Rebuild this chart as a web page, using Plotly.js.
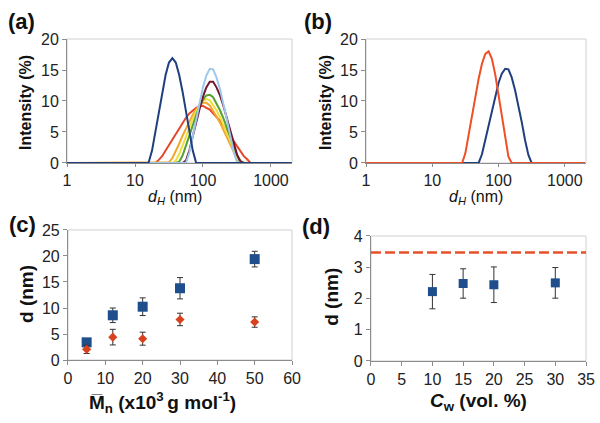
<!DOCTYPE html>
<html>
<head>
<meta charset="utf-8">
<script src="https://cdn.plot.ly/plotly-3.0.1.min.js"></script>
<style>html,body{margin:0;padding:0;background:#fff}#chart{width:600px;height:423px}</style>
</head>
<body>
<div id="chart"></div>
<script>
// ---- Data ----
// hydrodynamic diameter grid (nm)
const sizeNm = [1, 14.1, 15.8, 17.8, 20.0, 22.4, 25.1, 28.2, 31.6, 35.5, 39.8, 44.7, 50.1, 56.2, 63.1, 70.8, 79.4, 89.1, 100, 112, 126, 141, 158, 178, 200, 224, 251, 282, 316, 355, 398, 447, 501, 562, 631, 708, 2000];

// Panel (a) intensity distributions (%)
const aRed    = [0,0,0,0,0, 0.5,1.1,2.0,2.9,3.9,4.8,5.7,6.5,7.3,8.0,8.5,8.9,9.2,9.2,8.9,8.6,8.0,7.4,6.8,6.0,5.2,4.4,3.6,2.8,1.9,1.1,0.6, 0,0,0,0,0];
const aOrange = [0,0,0,0,0,0,0,0, 0.1,0.8,1.9,3.1,4.4,5.5,6.7,7.8,8.6,9.3,9.7,9.7,9.3,8.5,7.5,6.5,5.3,4.1,2.9,1.6,0.7, 0,0,0,0,0,0,0,0];
const aYellow = [0,0,0,0,0,0,0,0,0,0, 0.4,1.4,2.8,4.3,5.7,7.1,8.3,9.3,10.0,10.3,10.1,9.4,8.5,7.4,6.2,4.9,3.6,2.2,0.9,0.1, 0,0,0,0,0,0,0];
const aGreen  = [0,0,0,0,0,0,0,0,0,0,0, 0.2,1.2,2.8,4.5,6.2,7.7,9.1,10.2,10.9,11.0,10.6,9.6,8.5,7.2,5.8,4.3,2.8,1.3,0.4, 0,0,0,0,0,0,0];
const aMaroon = [0,0,0,0,0,0,0,0,0,0,0,0,0, 0.4,2.0,4.3,6.6,8.7,10.7,12.2,13.1,13.1,12.2,10.9,9.2,7.4,5.4,3.4,1.4,0.2, 0,0,0,0,0,0,0];
const aLightBlue = [0,0,0,0,0,0,0,0,0,0,0,0,0,0, 1.7,4.3,7.0,9.7,12.2,14.1,15.2,15.1,13.8,11.9,9.6,7.1,4.5,1.8,0.2, 0,0,0,0,0,0,0,0];
const aNavy   = [0,0,0, 2.0,5.2,8.4,11.5,14.2,16.2,16.9,16.2,14.2,11.5,8.4,5.2,2.0, 0,0,0,0,0,0,0,0,0,0,0,0,0,0,0,0,0,0,0,0,0];

// Panel (b)
const bRed  = [0,0,0,0,0,0,0,0, 1.6,4.7,7.8,10.9,13.6,16.0,17.6,18.0,16.8,14.3,11.1,7.6,4.0,1.0, 0,0,0,0,0,0,0,0,0,0,0,0,0,0,0];
const bNavy = [0,0,0,0,0,0,0,0,0,0,0,0,0, 1.4,3.7,6.2,8.6,10.8,12.9,14.4,15.2,15.1,13.8,11.7,9.3,6.6,3.7,1.3, 0,0,0,0,0,0,0,0,0];

// Panel (c)
const mnValues = [5, 12, 20, 30, 50];
const cBlue    = [3.4, 8.6, 10.25, 13.8, 19.4];
const cBlueErr = [0.7, 1.4, 1.7, 2.05, 1.5];
const cRed     = [2.05, 4.4, 4.1, 7.8, 7.3];
const cRedErr  = [0.8, 1.5, 1.25, 1.2, 1.0];

// Panel (d)
const cwValues = [10, 15, 20, 30];
const dBlue    = [2.22, 2.48, 2.44, 2.5];
const dBlueErr = [0.55, 0.47, 0.57, 0.49];
const refLineX = [0, 35];
const refLineY = [3.47, 3.47];

const xTickVals = [1, 10, 100, 1000];
const xTickText = ['1', '10', '100', '1000'];

// ---- Styles ----
const FONT = 'Liberation Sans, Arial, sans-serif';
const navy = '#1F3F7F';
const lw = 2;

function line(x, y, color, xa, ya) {
  return {x: x, y: y, type: 'scatter', mode: 'lines', line: {color: color, width: lw}, xaxis: xa, yaxis: ya, hoverinfo: 'skip'};
}

const traces = [
  line(sizeNm, aRed, '#E4472A', 'x', 'y'),
  line(sizeNm, aOrange, '#F4A62A', 'x', 'y'),
  line(sizeNm, aYellow, '#EEE03A', 'x', 'y'),
  line(sizeNm, aGreen, '#58A032', 'x', 'y'),
  line(sizeNm, aMaroon, '#741430', 'x', 'y'),
  line(sizeNm, aLightBlue, '#9DC8EC', 'x', 'y'),
  line(sizeNm, aNavy, navy, 'x', 'y'),
  line(sizeNm, bNavy, navy, 'x2', 'y2'),
  line(sizeNm, bRed, '#F04E23', 'x2', 'y2'),
  {x: mnValues, y: cBlue, type: 'scatter', mode: 'markers', xaxis: 'x3', yaxis: 'y3',
   marker: {symbol: 'square', size: 10, color: '#1F4E8C'},
   error_y: {type: 'data', array: cBlueErr, visible: true, color: '#333', thickness: 1, width: 3}},
  {x: mnValues, y: cRed, type: 'scatter', mode: 'markers', xaxis: 'x3', yaxis: 'y3',
   marker: {symbol: 'diamond', size: 7, color: '#D8401E'},
   error_y: {type: 'data', array: cRedErr, visible: true, color: '#333', thickness: 1, width: 3}},
  {x: refLineX, y: refLineY, type: 'scatter', mode: 'lines', xaxis: 'x4', yaxis: 'y4',
   line: {color: '#E8502A', width: 2.5, dash: '10px,4px'}},
  {x: cwValues, y: dBlue, type: 'scatter', mode: 'markers', xaxis: 'x4', yaxis: 'y4',
   marker: {symbol: 'square', size: 9, color: '#1F4E8C'},
   error_y: {type: 'data', array: dBlueErr, visible: true, color: '#333', thickness: 1, width: 3}}
];

const tickFont = {family: FONT, size: 16, color: '#222'};
function axBase(extra) {
  return Object.assign({
    showgrid: false, zeroline: false, showline: true, linecolor: '#8C8C8C', linewidth: 1,
    ticks: 'outside', ticklen: 4, tickcolor: '#8C8C8C', tickfont: tickFont, fixedrange: true
  }, extra);
}

const layout = {
  width: 600, height: 423,
  margin: {l: 0, r: 0, t: 0, b: 0},
  paper_bgcolor: '#fff', plot_bgcolor: '#fff',
  showlegend: false,
  font: {family: FONT},
  xaxis: axBase({domain: [0.1117, 0.4867], type: 'log', range: [0, 3.31], tickvals: xTickVals, ticktext: xTickText, anchor: 'y', ticklen: 3}),
  yaxis: axBase({domain: [0.6147, 0.9078], range: [0, 20], dtick: 5, anchor: 'x'}),
  xaxis2: axBase({domain: [0.61, 0.9767], type: 'log', range: [0, 3.32], tickvals: xTickVals, ticktext: xTickText, anchor: 'y2', ticklen: 3}),
  yaxis2: axBase({domain: [0.6147, 0.9078], range: [0, 20], dtick: 5, anchor: 'x2'}),
  xaxis3: axBase({domain: [0.1133, 0.4867], range: [0, 60], dtick: 10, anchor: 'y3'}),
  yaxis3: axBase({domain: [0.1489, 0.4563], range: [0, 25], dtick: 5, anchor: 'x3'}),
  xaxis4: axBase({domain: [0.6183, 0.9767], range: [0, 35], dtick: 5, anchor: 'y4'}),
  yaxis4: axBase({domain: [0.1466, 0.4421], range: [0, 4], dtick: 1, anchor: 'x4'}),
  shapes: ['', '2', '3', '4'].map(s => ({
    type: 'rect', xref: 'x' + s + ' domain', yref: 'y' + s + ' domain', x0: 0, x1: 1, y0: 0, y1: 1,
    line: {color: '#CFCFCF', width: 1}, layer: 'below'
  })),
  annotations: [
    {text: '<b>(a)</b>', x: 0.010, y: 0.948},
    {text: '<b>(b)</b>', x: 0.503, y: 0.948},
    {text: '<b>(c)</b>', x: 0.012, y: 0.4704},
    {text: '<b>(d)</b>', x: 0.500, y: 0.4657}
  ].map(a => Object.assign(a, {xref: 'paper', yref: 'paper', xanchor: 'left', yanchor: 'middle', showarrow: false,
     font: {family: FONT, size: 22, color: '#111'}})).concat([
    {text: '<b>Intensity (%)</b>', x: 0.0417, y: 0.7565, textangle: -90, size: 16},
    {text: '<b>Intensity (%)</b>', x: 0.5417, y: 0.7565, textangle: -90, size: 16},
    {text: '<b>d (nm)</b>', x: 0.045, y: 0.305, textangle: -90, size: 19},
    {text: '<b>d (nm)</b>', x: 0.553, y: 0.2979, textangle: -90, size: 19},
    {text: '<i>d</i><sub><i>H</i></sub> (nm)', x: 0.2917, y: 0.5320, size: 16},
    {text: '<i>d</i><sub><i>H</i></sub> (nm)', x: 0.7933, y: 0.5320, size: 16},
    {text: '<b>M\u0305<sub>n</sub> (x10<sup>3 </sup>g mol<sup>-1</sup>)</b>', x: 0.27, y: 0.0496, size: 19},
    {text: '<b><i>C</i><sub>w</sub> (vol. %)</b>', x: 0.7967, y: 0.0496, size: 19}
  ].map(a => {
    const size = a.size || 15; delete a.size;
    return Object.assign(a, {xref: 'paper', yref: 'paper', xanchor: 'center', yanchor: 'middle', showarrow: false,
      font: {family: FONT, size: size, color: '#111'}});
  }))
};

Plotly.newPlot('chart', traces, layout, {staticPlot: true, displayModeBar: false});
</script>
</body>
</html>
